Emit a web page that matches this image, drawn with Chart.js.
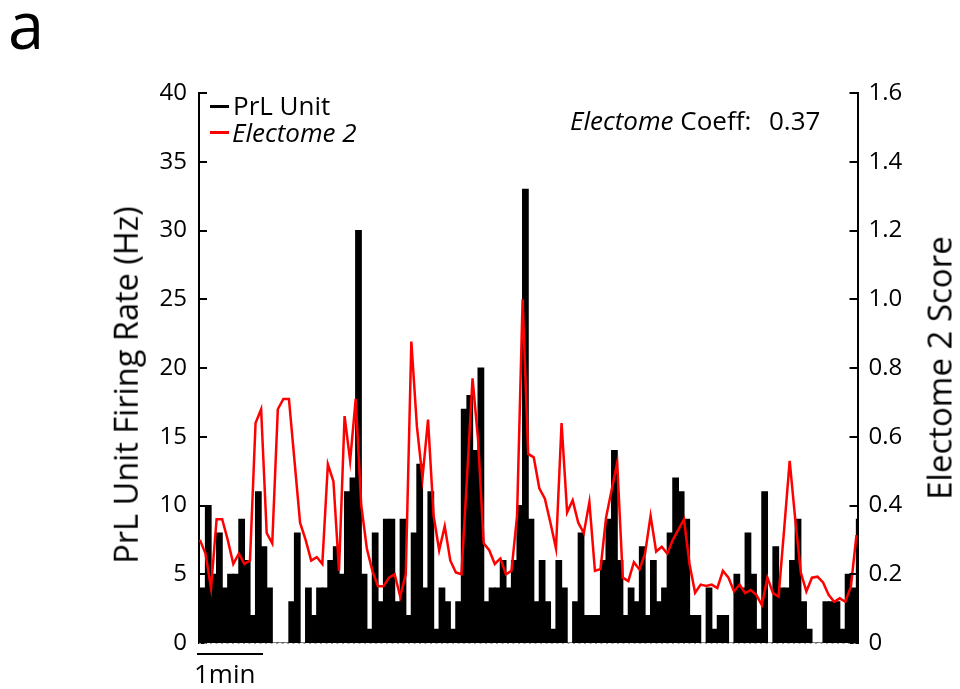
<!DOCTYPE html>
<html><head><meta charset="utf-8">
<script src="https://cdn.jsdelivr.net/npm/chart.js@4.4.1/dist/chart.umd.min.js"></script>
<style>
html,body{margin:0;padding:0;background:#fff;}
#wrap{position:relative;width:960px;height:689px;font-family:"Open Sans",sans-serif;color:#000;overflow:hidden;}
canvas{position:absolute;left:0;top:0;}
.t{position:absolute;white-space:nowrap;line-height:1;}
.sw{position:absolute;height:3px;width:19px;}
</style></head><body>
<div id="wrap">
<canvas id="c" width="960" height="689"></canvas>
<div class="t" style="left:8px;top:-8px;font-size:65px;">a</div>
<div class="sw" style="left:210px;top:105px;background:#000;"></div>
<div class="t" style="left:233px;top:92px;font-size:26px;">PrL Unit</div>
<div class="sw" style="left:210px;top:131px;background:#ff0000;"></div>
<div class="t" style="left:232px;top:119px;font-size:26px;font-style:italic;">Electome 2</div>
<div class="t" style="left:570px;top:107px;font-size:26px;"><i>Electome</i> Coeff:</div>
<div class="t" style="left:769px;top:107px;font-size:26px;">0.37</div>
<div class="t" style="left:126px;top:385px;font-size:32.5px;transform:translate(-50%,-50%) rotate(-90deg);">PrL Unit Firing Rate (Hz)</div>
<div class="t" style="left:939px;top:368px;font-size:33px;transform:translate(-50%,-50%) rotate(-90deg);">Electome 2 Score</div>
<div style="position:absolute;left:197px;top:653px;width:66px;height:2px;background:#000;"></div>
<div class="t" style="left:194px;top:660px;font-size:26px;">1min</div>
</div>
<script>
// PrL unit firing rate per time bin (Hz)
const firingRate = [4,10,5,8,4,5,5,9,6,2, 11,7,4,0,0,0,3,8,0,4, 2,4,4,6,7,5,11,12,30,5,
  1,8,3,9,9,3,9,2,8,13, 4,11,1,4,3,1,3,17,18,14, 20,3,4,4,6,4,6,10,33,9,
  3,6,3,1,6,4,0,3,8,2, 2,2,6,9,14,6,2,4,3,7, 2,6,3,4,8,12,11,9,2,2,
  0,4,1,2,2,0,5,4,8,5, 1,11,0,7,4,4,6,9,3,1, 0,0,3,3,3,1,5,4,9];
// Electome 2 score per time bin
const electomeScore = [0.30,0.26,0.16,0.36,0.36,0.30,0.23,0.26,0.23,0.24,
  0.64,0.68,0.32,0.29,0.68,0.71,0.71,0.53,0.35,0.30,
  0.24,0.25,0.23,0.52,0.47,0.21,0.66,0.53,0.71,0.40,
  0.275,0.21,0.165,0.165,0.19,0.20,0.135,0.20,0.877,0.63,
  0.48,0.65,0.37,0.27,0.34,0.24,0.205,0.20,0.48,0.77,
  0.59,0.29,0.27,0.23,0.246,0.20,0.21,0.37,1.0,0.55,
  0.54,0.45,0.42,0.35,0.275,0.64,0.38,0.415,0.35,0.32,
  0.41,0.21,0.215,0.365,0.445,0.525,0.19,0.18,0.235,0.214,
  0.26,0.37,0.266,0.28,0.26,0.30,0.33,0.36,0.23,0.146,
  0.17,0.166,0.17,0.16,0.21,0.19,0.15,0.17,0.145,0.154,
  0.14,0.11,0.19,0.145,0.135,0.33,0.53,0.36,0.205,0.15,
  0.19,0.193,0.176,0.14,0.12,0.13,0.12,0.164,0.314];
const leftTicks = [0,5,10,15,20,25,30,35,40];
const rightTicks = [0,0.2,0.4,0.6,0.8,1.0,1.2,1.4,1.6];
const rightTickLabels = ['0','0.2','0.4','0.6','0.8','1.0','1.2','1.4','1.6'];

const FONT = '"Open Sans", sans-serif';
const barData = firingRate.map((v,i)=>({x:i, y:v}));
const lineData = electomeScore.map((v,i)=>({x:i-0.5, y:v}));

const innerTicks = {
  id:'innerTicks',
  afterDraw(chart){
    const c = chart.ctx, a = chart.chartArea;
    c.save();
    c.strokeStyle = '#000'; c.lineWidth = 2;
    leftTicks.forEach(v=>{
      const y = Math.round(chart.scales.y.getPixelForValue(v));
      c.beginPath(); c.moveTo(a.left, y); c.lineTo(a.left+8, y); c.stroke();
    });
    rightTicks.forEach(v=>{
      const y = Math.round(chart.scales.y2.getPixelForValue(v));
      c.beginPath(); c.moveTo(a.right-8, y); c.lineTo(a.right, y); c.stroke();
    });
    c.strokeStyle = '#999'; c.lineWidth = 1; c.setLineDash([2,3.5]);
    c.beginPath(); c.moveTo(a.left, a.bottom+0.5); c.lineTo(a.right, a.bottom+0.5); c.stroke();
    c.restore();
  }
};

new Chart(document.getElementById('c'), {
  type:'bar',
  data:{datasets:[
    {type:'line', data:lineData, yAxisID:'y2', xAxisID:'x', borderColor:'#ff0000', borderWidth:2.5,
     pointRadius:0, tension:0, order:0, clip:false},
    {type:'bar', data:barData, yAxisID:'y', xAxisID:'x', backgroundColor:'#000', borderWidth:0,
     barPercentage:1, categoryPercentage:1, inflateAmount:0.6, order:1, clip:0}
  ]},
  options:{
    responsive:false, animation:false, devicePixelRatio:1,
    layout:{padding:{top:93, bottom:46, left:0, right:0}},
    plugins:{legend:{display:false}, tooltip:{enabled:false}},
    scales:{
      x:{type:'linear', min:-0.665, max:117.69, offset:false, bounds:'data', display:false},
      y:{position:'left', min:0, max:40,
         afterBuildTicks(s){ s.ticks = leftTicks.map(v=>({value:v})); },
         ticks:{padding:12, color:'#000', font:{family:FONT, size:24}},
         grid:{display:false, drawTicks:false},
         border:{display:true, color:'#000', width:2},
         afterFit(s){ s.width = 199; }},
      y2:{position:'right', min:0, max:1.6,
         afterBuildTicks(s){ s.ticks = rightTicks.map(v=>({value:v})); },
         ticks:{padding:11, color:'#000', font:{family:FONT, size:24},
           callback:(v,i)=>rightTickLabels[i]},
         grid:{display:false, drawTicks:false},
         border:{display:true, color:'#000', width:2},
         afterFit(s){ s.width = 102.5; }}
    }
  },
  plugins:[innerTicks]
});
</script>
</body></html>
